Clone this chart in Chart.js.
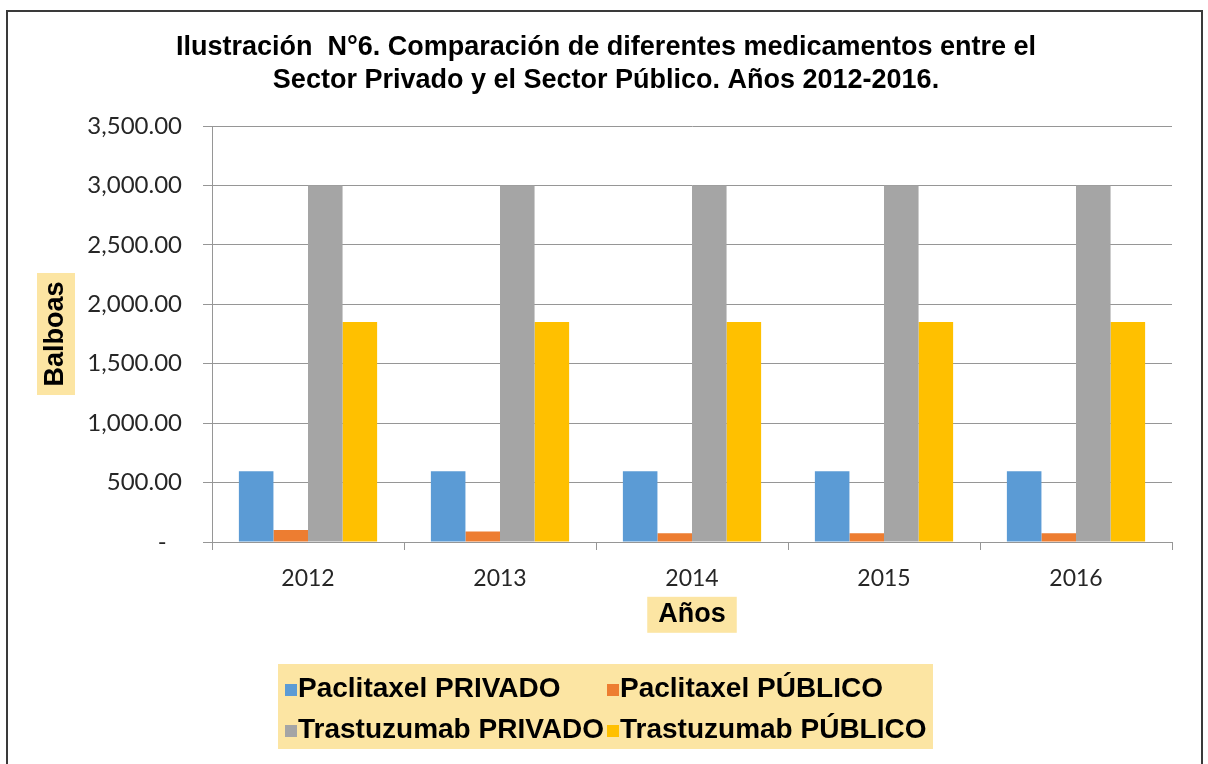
<!DOCTYPE html>
<html>
<head>
<meta charset="utf-8">
<script src="https://cdn.jsdelivr.net/npm/chart.js@4.4.0/dist/chart.umd.min.js"></script>
<style>
  html, body { margin: 0; padding: 0; background: #ffffff; }
  #wrap { width: 1208px; height: 764px; }
</style>
</head>
<body>
<div id="wrap"><canvas id="c" width="1208" height="764"></canvas></div>
<script>
// ---- data ----
const years = ['2012', '2013', '2014', '2015', '2016'];
const seriesNames = ['Paclitaxel PRIVADO', 'Paclitaxel PÚBLICO', 'Trastuzumab PRIVADO', 'Trastuzumab PÚBLICO'];
const paclitaxelPrivado = [595, 595, 595, 595, 595];
const paclitaxelPublico = [100, 88, 74, 73, 73];
const trastuzumabPrivado = [3000, 3000, 3000, 3000, 3000];
const trastuzumabPublico = [1850, 1850, 1850, 1850, 1850];
const yTickValues = [0, 500, 1000, 1500, 2000, 2500, 3000, 3500];
const titleLines = ['Ilustración  N°6. Comparación de diferentes medicamentos entre el',
                    'Sector Privado y el Sector Público. Años 2012-2016.'];
const xAxisTitle = 'Años';
const yAxisTitle = 'Balboas';

const seriesColors = ['#5B9BD5', '#ED7D31', '#A5A5A5', '#FFC000'];
const boxFill = '#FCE5A3';
const gridColor = '#969696';
const boldFont = 'Liberation Sans, Arial, sans-serif';
const tickFont = 'Lato, Calibri, sans-serif';

const fmt = v => v === 0 ? '-  \u2009' : v.toLocaleString('en-US', { minimumFractionDigits: 2, maximumFractionDigits: 2 });

const axisTitleSize = 27;
const xTitlePadBottom = 11;
const yTitlePadTop = 29.8;

const decorPlugin = {
  id: 'decor',
  beforeDraw(chart) {
    const ctx = chart.ctx;
    ctx.save();
    ctx.fillStyle = '#ffffff';
    ctx.fillRect(0, 0, chart.width, chart.height);
    // outer border
    ctx.strokeStyle = '#3a3a3a';
    ctx.lineWidth = 2;
    ctx.strokeRect(7, 11, 1195, 800);
    // axis title boxes
    const xs = chart.scales.x, ys = chart.scales.y;
    const lh = axisTitleSize * 1.2;
    ctx.font = 'bold ' + axisTitleSize + 'px ' + boldFont;
    const xw = ctx.measureText(xAxisTitle).width;
    const xcx = (xs.left + xs.right) / 2;
    const xcy = xs.bottom - lh / 2 - xTitlePadBottom;
    ctx.fillStyle = boxFill;
    ctx.fillRect(xcx - xw / 2 - 11, xcy - 18, xw + 22, 36);
    const yw = ctx.measureText(yAxisTitle).width;
    const ycx = ys.left + lh / 2 + yTitlePadTop;
    const ycy = (ys.top + ys.bottom) / 2;
    ctx.fillRect(ycx - 19, ycy - yw / 2 - 8.5, 38, yw + 17);
    ctx.restore();
  },
  afterDraw(chart) {
    const ctx = chart.ctx;
    ctx.save();
    // legend box
    ctx.fillStyle = boxFill;
    ctx.fillRect(278, 664, 655, 85);
    ctx.font = 'bold 28px ' + boldFont;
    ctx.textBaseline = 'alphabetic';
    ctx.textAlign = 'left';
    const colMarkerX = [285, 607];
    const colTextX = [298, 620];
    const rowBaseline = [697, 738];
    chart.data.datasets.forEach((ds, i) => {
      const col = i % 2, row = Math.floor(i / 2);
      ctx.fillStyle = ds.backgroundColor;
      ctx.fillRect(colMarkerX[col], rowBaseline[row] - 13, 12, 12);
      ctx.fillStyle = '#000000';
      ctx.fillText(ds.label, colTextX[col], rowBaseline[row]);
    });
    ctx.restore();
  }
};

new Chart(document.getElementById('c'), {
  type: 'bar',
  data: {
    labels: years,
    datasets: [
      { label: seriesNames[0], data: paclitaxelPrivado, backgroundColor: seriesColors[0] },
      { label: seriesNames[1], data: paclitaxelPublico, backgroundColor: seriesColors[1] },
      { label: seriesNames[2], data: trastuzumabPrivado, backgroundColor: seriesColors[2] },
      { label: seriesNames[3], data: trastuzumabPublico, backgroundColor: seriesColors[3] }
    ]
  },
  plugins: [decorPlugin],
  options: {
    responsive: false,
    animation: false,
    devicePixelRatio: 1,
    categoryPercentage: 0.72,
    barPercentage: 1.0,
    layout: { padding: { top: 10, left: 10, right: 6, bottom: 122 } },
    plugins: {
      legend: { display: false },
      tooltip: { enabled: false },
      title: {
        display: true,
        text: titleLines,
        color: '#000000',
        font: { family: boldFont, size: 27, weight: 'bold', lineHeight: 33 / 27 },
        padding: { top: 21.5, bottom: 28.5 }
      }
    },
    scales: {
      x: {
        grid: { offset: true, drawOnChartArea: false, drawTicks: true, tickLength: 8, color: gridColor },
        border: { color: gridColor, width: 1 },
        ticks: { color: '#262626', font: { family: tickFont, size: 23 }, padding: 15, maxRotation: 0 },
        title: {
          display: true, text: xAxisTitle, color: '#000000',
          font: { family: boldFont, size: axisTitleSize, weight: 'bold', lineHeight: 1.2 },
          padding: { top: 0, bottom: xTitlePadBottom }
        },
        afterFit: s => { s.height = 100; }
      },
      y: {
        min: 0,
        max: 3500,
        afterBuildTicks: s => { s.ticks = yTickValues.map(v => ({ value: v })); },
        grid: { color: gridColor, tickLength: 9 },
        border: { color: gridColor, width: 1 },
        ticks: { color: '#262626', font: { family: tickFont, size: 24 }, padding: 21, callback: v => fmt(v) },
        title: {
          display: true, text: yAxisTitle, color: '#000000',
          font: { family: boldFont, size: axisTitleSize, weight: 'bold', lineHeight: 1.2 },
          padding: { top: yTitlePadTop, bottom: 0 }
        },
        afterFit: s => { s.width = 202; }
      },
      yRight: {
        position: 'right',
        display: true,
        grid: { display: false, drawOnChartArea: false },
        border: { display: false },
        ticks: { display: false },
        afterFit: s => { s.width = 30; }
      }
    }
  }
});
</script>
</body>
</html>
